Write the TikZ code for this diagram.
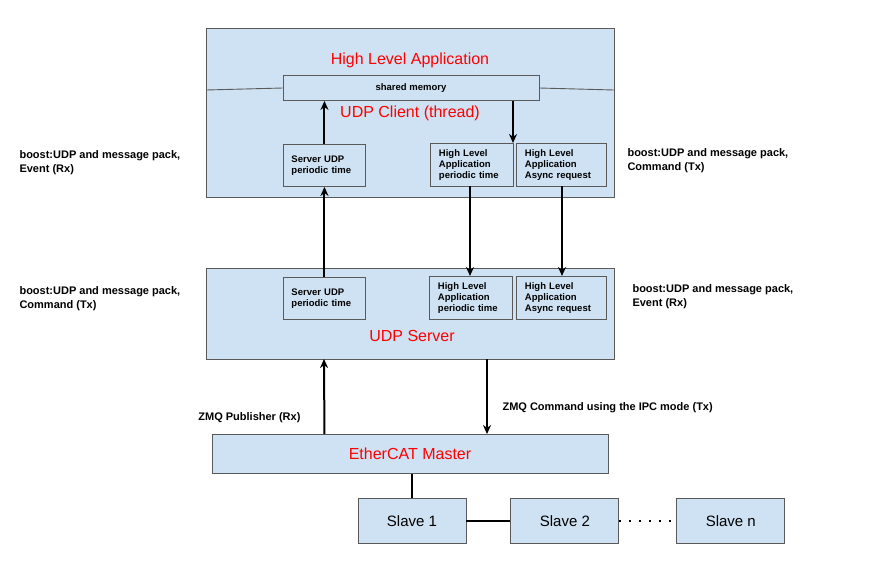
\documentclass[tikz,border=0pt]{standalone}
\usepackage{fontspec}
\setmainfont{Liberation Sans}
\usetikzlibrary{positioning, arrows.meta}
\definecolor{boxblue}{RGB}{207, 226, 243}
\definecolor{boxedge}{RGB}{90, 90, 90}
\definecolor{titlered}{RGB}{255, 0, 0}
\tikzset{
    layer/.style={draw=boxedge, fill=boxblue, line width=0.9pt},
    smallbox/.style={draw=boxedge, fill=boxblue, line width=0.9pt, font=\fontsize{9.5}{11}\selectfont\bfseries, align=left, anchor=north west, inner sep=0pt},
    title/.style={text=titlered, font=\fontsize{16}{18}\selectfont},
    note/.style={font=\fontsize{11}{14}\selectfont\bfseries, align=left},
    slave/.style={draw=boxedge, fill=boxblue, line width=0.9pt, minimum width=108pt, minimum height=45pt, font=\fontsize{15}{17}\selectfont},
    flow/.style={line width=2pt, -{Stealth[length=9pt, width=8pt]}}
}
\begin{document}
\begin{tikzpicture}[x=1pt, y=-1pt]
    \useasboundingbox (0,0) rectangle (877,574);
    % High level application
    \draw[layer] (206,28) rectangle (614,197);
    \node[draw=boxedge, fill=boxblue, line width=0.9pt, minimum width=256pt, minimum height=25pt, inner sep=0pt, font=\fontsize{9.5}{11}\selectfont\bfseries] (shm) at (411,88) {shared memory};
    \draw[boxedge, line width=0.9pt] (206,90) -- (shm.west);
    \draw[boxedge, line width=0.9pt] (shm.east) -- (614,90);
    \node[title] (hla) at (410,60) {High Level Application};
    \node[title] (client) at (410,113) {UDP Client (thread)};
    \node[smallbox, minimum width=82pt, minimum height=42pt, text width=76pt] (cs) at (283,144) {\hspace*{5pt}Server UDP\\\hspace*{5pt}periodic time};
    \node[smallbox, minimum width=83pt, minimum height=43pt, text width=78pt] (cp) at (430,143) {\hspace*{6pt}High Level\\\hspace*{6pt}Application\\\hspace*{6pt}periodic time};
    \node[smallbox, minimum width=90pt, minimum height=43pt, text width=85pt] (ca) at (516,143) {\hspace*{6pt}High Level\\\hspace*{6pt}Application\\\hspace*{6pt}Async request};
    % UDP server
    \draw[layer] (206,268) rectangle (614,359);
    \node[smallbox, minimum width=82pt, minimum height=42pt, text width=76pt] (ss) at (283,277) {\hspace*{5pt}Server UDP\\\hspace*{5pt}periodic time};
    \node[smallbox, minimum width=83pt, minimum height=43pt, text width=78pt] (sp) at (429,276) {\hspace*{6pt}High Level\\\hspace*{6pt}Application\\\hspace*{6pt}periodic time};
    \node[smallbox, minimum width=90pt, minimum height=43pt, text width=85pt] (sa) at (516,276) {\hspace*{6pt}High Level\\\hspace*{6pt}Application\\\hspace*{6pt}Async request};
    \node[title] (server) at (412,336) {UDP Server};
    % EtherCAT
    \node[draw=boxedge, fill=boxblue, line width=0.9pt, minimum width=396pt, minimum height=39pt, title, text=titlered] (master) at (410,454) {EtherCAT Master};
    \node[slave] (s1) at (412,521) {Slave 1};
    \node[slave, right=44pt of s1] (s2) {Slave 2};
    \node[slave, right=57pt of s2] (sn) {Slave n};
    % connectors
    \draw[flow] (cs.north) -- (cs.north |- shm.south);
    \draw[flow] (shm.south -| 513,0) -- (513,143);
    \draw[flow] (ss.north) -- (cs.south);
    \draw[flow] (470,186) -- (470,276);
    \draw[flow] (562,186) -- (562,276);
    \draw[flow] (master.north -| ss) -- (324,359);
    \draw[flow] (487,359) -- (master.north -| 487,0);
    \draw[line width=2pt] (master.south -| s1) -- (s1.north);
    \draw[line width=2.5pt] (s1) -- (s2);
    \draw[line width=2pt, dash pattern=on 2pt off 8pt] (s2) -- (sn);
    % labels
    \node[note, anchor=west] (l1) at (16,163) {boost:UDP and message pack,\\Event (Rx)};
    \node[note, anchor=west] (r1) at (624,161) {boost:UDP and message pack,\\Command (Tx)};
    \node[note, anchor=west] (l2) at (16,299) {boost:UDP and message pack,\\Command (Tx)};
    \node[note, anchor=west] (r2) at (629,297) {boost:UDP and message pack,\\Event (Rx)};
    \node[note, anchor=east] (zp) at (304,418) {ZMQ Publisher (Rx)};
    \node[note, anchor=west] (zc) at (499,408) {ZMQ Command using the IPC mode (Tx)};
\end{tikzpicture}
\end{document}
